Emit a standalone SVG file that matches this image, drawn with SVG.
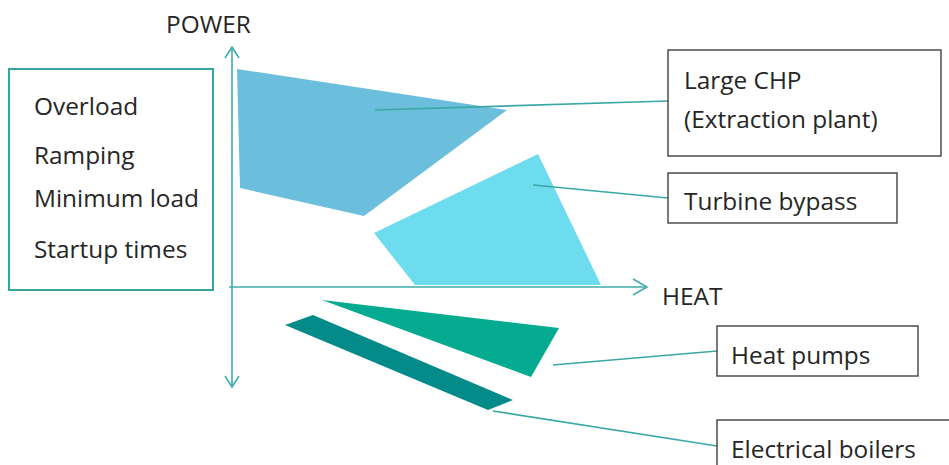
<svg xmlns="http://www.w3.org/2000/svg" width="949" height="465" viewBox="0 0 949 465">
  <style>
    text { font-family: "Open Sans", "Noto Sans", "Liberation Sans", sans-serif; font-size: 24.4px; fill: #262626; }
    .teal { stroke: #3fadaa; stroke-width: 1.6; fill: none; }
    .box { stroke: #404040; stroke-width: 1.4; fill: #ffffff; }
    .lbox { stroke: #35a5a1; stroke-width: 2; fill: #ffffff; }
    .conn { stroke: #3aa8a6; stroke-width: 1.6; fill: none; }
  </style>
  <rect width="949" height="465" fill="#ffffff"/>

  <g id="criteria">
    <rect class="lbox" x="9" y="69" width="204" height="221"/>
    <text x="34" y="115">Overload</text>
    <text x="34" y="164">Ramping</text>
    <text x="34" y="207">Minimum load</text>
    <text x="34" y="258">Startup times</text>
  </g>

  <g id="axes">
    <line class="teal" x1="232" y1="47" x2="232" y2="387"/>
    <polyline class="teal" points="225,58 232,47 239,58"/>
    <polyline class="teal" points="225,376 232,387 239,376"/>
    <line class="teal" x1="229" y1="287" x2="647" y2="287"/>
    <polyline class="teal" points="633,279 647,287 633,295"/>
    <text x="166" y="33">POWER</text>
    <text x="662" y="305">HEAT</text>
  </g>

  <g id="large-chp-area">
    <polygon points="237,69 507,110 364,216 240,188" fill="#6bbfdc"/>
  </g>
  <g id="turbine-bypass-area">
    <polygon points="538,154 601,285 415,285 374,233" fill="#6ddcee"/>
  </g>
  <g id="heat-pumps-area">
    <polygon points="322,300 559,328 531,377" fill="#05ab90"/>
  </g>
  <g id="electrical-boilers-area">
    <polygon points="285,325 313,315 513,400 488,410" fill="#028b88"/>
  </g>

  <g id="connectors">
    <line class="conn" x1="375" y1="110" x2="668" y2="101"/>
    <line class="conn" x1="533" y1="185" x2="668" y2="198"/>
    <line class="conn" x1="553" y1="365" x2="717" y2="351"/>
    <line class="conn" x1="493" y1="411" x2="717" y2="446"/>
  </g>

  <g id="large-chp">
    <rect class="box" x="668" y="50" width="273" height="106"/>
    <text x="684" y="89">Large CHP</text>
    <text x="684" y="128">(Extraction plant)</text>
  </g>
  <g id="turbine-bypass">
    <rect class="box" x="668" y="173" width="229" height="50"/>
    <text x="684" y="210">Turbine bypass</text>
  </g>
  <g id="heat-pumps">
    <rect class="box" x="717" y="326" width="201" height="50"/>
    <text x="731" y="364">Heat pumps</text>
  </g>
  <g id="electrical-boilers">
    <rect class="box" x="717" y="420" width="240" height="60"/>
    <text x="731" y="458">Electrical boilers</text>
  </g>
</svg>
